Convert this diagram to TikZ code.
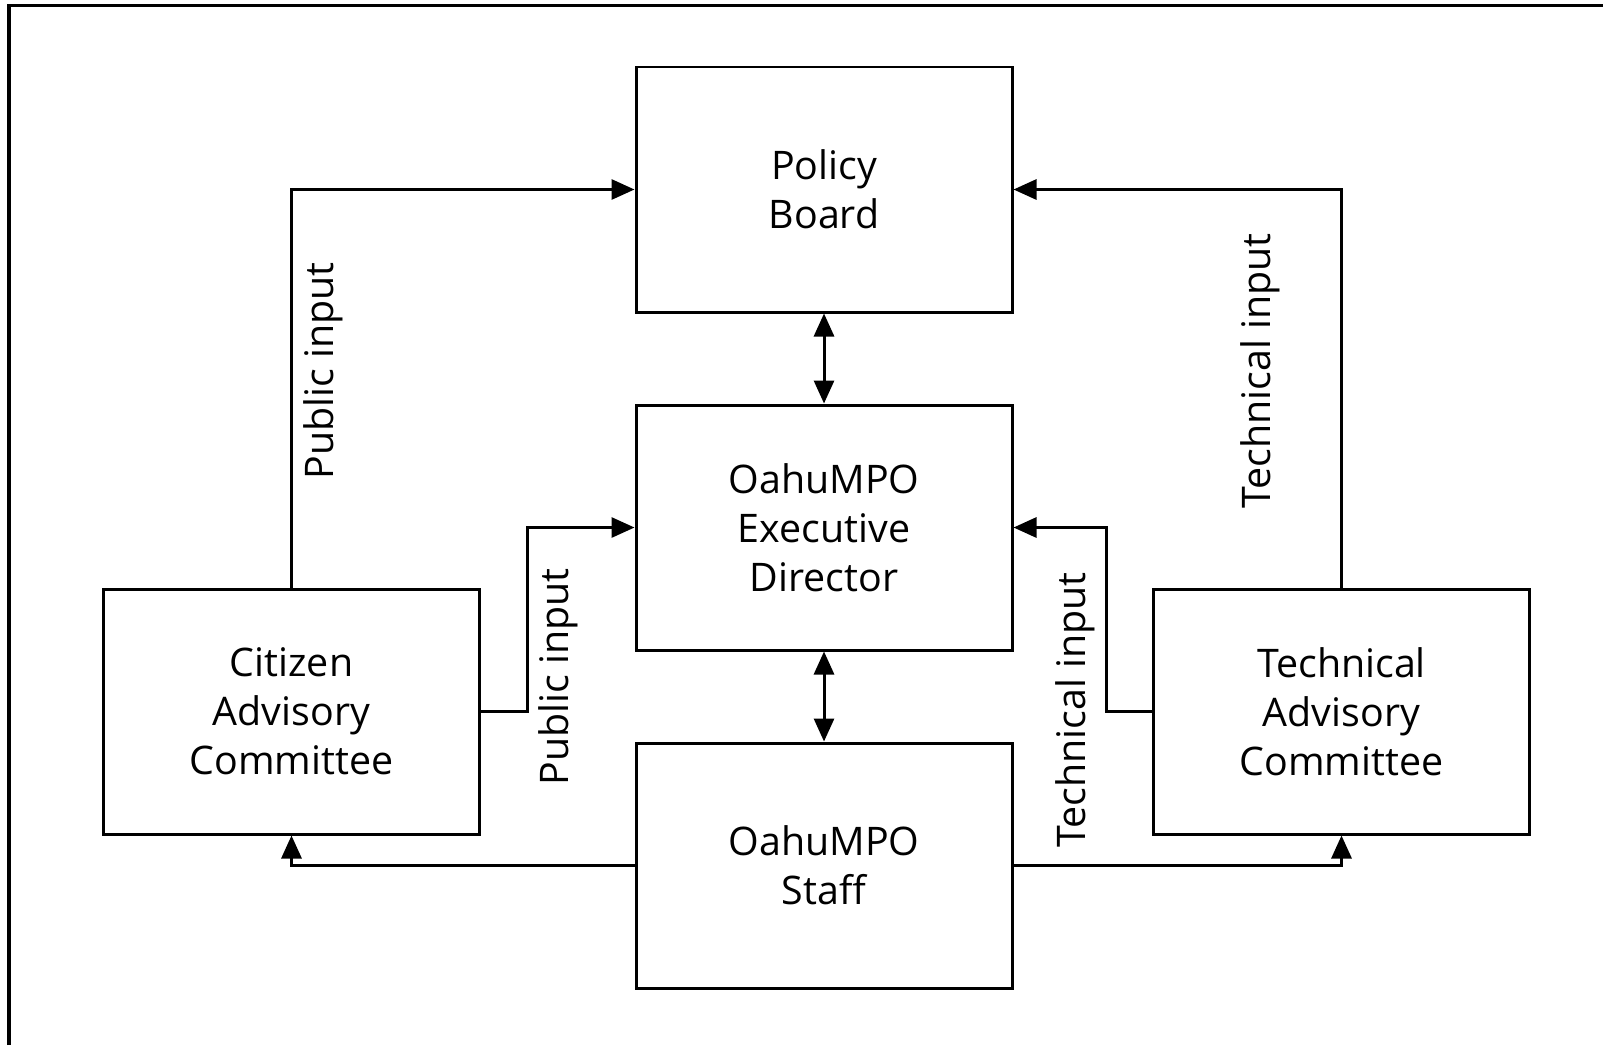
\documentclass[tikz,border=0pt]{standalone}
\usepackage{fontspec}
\setmainfont{Open Sans}
\usetikzlibrary{arrows.meta}
\begin{document}
\begin{tikzpicture}[node distance={33.8mm}, line width=0.85pt, font=\fontsize{11.2}{14}\selectfont,
  main/.style = {draw, rectangle, align=center, minimum width=37.6mm, minimum height=24.5mm},
  lab/.style = {rotate=90, inner sep=0pt},
  arr/.style = {-{Triangle[length=2.3mm, width=2mm]}},
  darr/.style = {{Triangle[length=2.3mm, width=2mm]}-{Triangle[length=2.3mm, width=2mm]}}]
\useasboundingbox (0,0) rectangle (16.03,-10.45);
\draw[line width=0.9pt] (0.09,-10.45) -- (0.09,-0.055) -- (16.03,-0.055);

\node[main] (pb) at (8.24,-1.895) {Policy\\Board};
\node[main] (ed) [below of=pb] {OahuMPO\\Executive\\Director};
\node[main] (staff) [below of=ed] {OahuMPO\\Staff};
\node[main] (cac) at (2.915,-7.115) {Citizen\\Advisory\\Committee};
\node[main] (tac) at (13.415,-7.115) {Technical\\Advisory\\Committee};

\node[lab] (l1) at (3.23,-3.71) {Public input};
\node[lab] (l2) at (5.58,-6.77) {Public input};
\node[lab] (l3) at (12.60,-3.71) {Technical input};
\node[lab] (l4) at (10.75,-7.10) {Technical input};

\draw[arr] (cac.north) |- (pb.west);
\draw[arr] (tac.north) |- (pb.east);
\draw[arr] (cac.east) -- ++(0.465,0) |- (ed.west);
\draw[arr] (tac.west) -- ++(-0.46,0) |- (ed.east);
\draw[darr] (pb.south) -- (ed.north);
\draw[darr] (ed.south) -- (staff.north);
\draw[arr] (staff.west) -| (cac.south);
\draw[arr] (staff.east) -| (tac.south);

\end{tikzpicture}
\end{document}
